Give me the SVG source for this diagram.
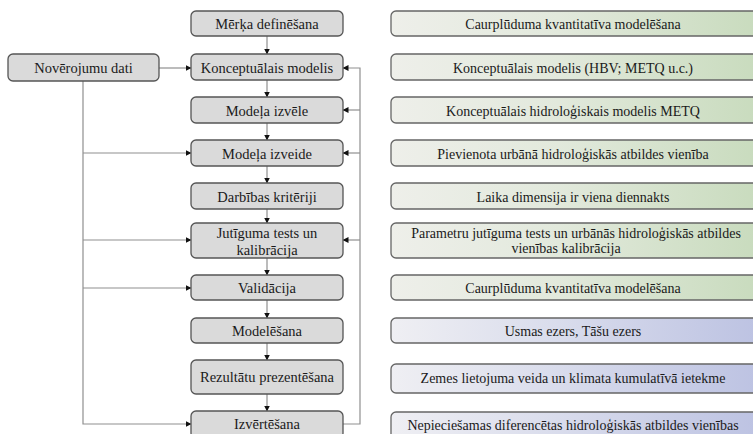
<svg xmlns="http://www.w3.org/2000/svg" width="753" height="434" viewBox="0 0 753 434" font-family="'Liberation Serif', 'DejaVu Serif', serif">
  <style>
    .step rect { fill: #dadada; stroke: #555; stroke-width: 1.3; }
    .note rect { stroke: #666; stroke-width: 1.3; }
    .note.g rect { fill: url(#gGreen); }
    .note.b rect { fill: url(#gBlue); }
    text { font-family: 'Liberation Serif', 'DejaVu Serif', serif; font-size: 14.5px; fill: #1a1a1a; text-anchor: middle; }
    .note text { font-size: 14px; }
    .wire { fill: none; stroke: #8f8f8f; stroke-width: 1.2; marker-end: url(#tip); }
  </style>
  <defs>
    <linearGradient id="gGreen" x1="0" y1="0" x2="1" y2="0">
      <stop offset="0" stop-color="#eeefea"/>
      <stop offset="0.45" stop-color="#e2e9dc"/>
      <stop offset="1" stop-color="#c8dbbd"/>
    </linearGradient>
    <linearGradient id="gBlue" x1="0" y1="0" x2="1" y2="0">
      <stop offset="0" stop-color="#efeff3"/>
      <stop offset="0.45" stop-color="#d9dcec"/>
      <stop offset="1" stop-color="#bcc2e2"/>
    </linearGradient>
    <marker id="tip" markerUnits="userSpaceOnUse" markerWidth="6" markerHeight="6" refX="5.5" refY="3" orient="auto">
      <path d="M0,0 L6,3 L0,6 z" fill="#111"/>
    </marker>
  </defs>

  <rect width="753" height="434" fill="#ffffff"/>

  <!-- connectors -->
  <g id="connectors">
    <!-- main chain -->
    <path class="wire" d="M267,36 V54"/>
    <path class="wire" d="M267,80 V97"/>
    <path class="wire" d="M267,123 V140"/>
    <path class="wire" d="M267,166 V183"/>
    <path class="wire" d="M267,209 V223"/>
    <path class="wire" d="M267,258 V275"/>
    <path class="wire" d="M267,300 V318"/>
    <path class="wire" d="M267,343 V360"/>
    <path class="wire" d="M267,394 V411"/>
    <!-- observation data feeds -->
    <path class="wire" d="M159,68 H191"/>
    <path class="wire" d="M83,81 V424 H191"/>
    <path class="wire" d="M83,153 H191"/>
    <path class="wire" d="M83,240 H191"/>
    <path class="wire" d="M83,288 H191"/>
    <!-- evaluation feedback loop -->
    <path class="wire" d="M343,424 H360 V68 H343"/>
    <path class="wire" d="M360,110 H343"/>
    <path class="wire" d="M360,153 H343"/>
    <path class="wire" d="M360,240 H343"/>
  </g>

  <!-- observation data -->
  <g id="n-dati" class="step">
    <rect x="8" y="54" width="151" height="27" rx="5"/>
    <text x="83.5" y="72.5">Novērojumu dati</text>
  </g>

  <!-- process steps -->
  <g id="n-merka" class="step">
    <rect x="191" y="11" width="152" height="25" rx="5"/>
    <text x="267" y="28.5">Mērķa definēšana</text>
  </g>
  <g id="n-konc" class="step">
    <rect x="191" y="54" width="152" height="26" rx="5"/>
    <text x="267" y="72.5">Konceptuālais modelis</text>
  </g>
  <g id="n-izvele" class="step">
    <rect x="191" y="97" width="152" height="26" rx="5"/>
    <text x="267" y="115.5">Modeļa izvēle</text>
  </g>
  <g id="n-izveide" class="step">
    <rect x="191" y="140" width="152" height="26" rx="5"/>
    <text x="267" y="158.5">Modeļa izveide</text>
  </g>
  <g id="n-krit" class="step">
    <rect x="191" y="183" width="152" height="26" rx="5"/>
    <text x="267" y="201.5">Darbības kritēriji</text>
  </g>
  <g id="n-jut" class="step">
    <rect x="191" y="223" width="152" height="35" rx="5"/>
    <text x="267" y="237.5">Jutīguma tests un</text>
    <text x="267" y="254.5">kalibrācija</text>
  </g>
  <g id="n-valid" class="step">
    <rect x="191" y="275" width="152" height="25" rx="5"/>
    <text x="267" y="292.5">Validācija</text>
  </g>
  <g id="n-model" class="step">
    <rect x="191" y="318" width="152" height="25" rx="5"/>
    <text x="267" y="335.5">Modelēšana</text>
  </g>
  <g id="n-rez" class="step">
    <rect x="191" y="360" width="152" height="34" rx="5"/>
    <text x="267" y="382">Rezultātu prezentēšana</text>
  </g>
  <g id="n-izv" class="step">
    <rect x="191" y="411" width="152" height="27" rx="5"/>
    <text x="267" y="429">Izvērtēšana</text>
  </g>

  <!-- descriptions -->
  <g id="d1" class="note g">
    <rect x="391" y="11" width="372" height="25" rx="5"/>
    <text x="573" y="28.5">Caurplūduma kvantitatīva modelēšana</text>
  </g>
  <g id="d2" class="note g">
    <rect x="391" y="54" width="372" height="26" rx="5"/>
    <text x="573" y="72.5">Konceptuālais modelis (HBV; METQ u.c.)</text>
  </g>
  <g id="d3" class="note g">
    <rect x="391" y="97" width="372" height="26" rx="5"/>
    <text x="573" y="115.5">Konceptuālais hidroloģiskais modelis METQ</text>
  </g>
  <g id="d4" class="note g">
    <rect x="391" y="140" width="372" height="26" rx="5"/>
    <text x="573" y="158.5">Pievienota urbānā hidroloģiskās atbildes vienība</text>
  </g>
  <g id="d5" class="note g">
    <rect x="391" y="183" width="372" height="26" rx="5"/>
    <text x="573" y="201.5">Laika dimensija ir viena diennakts</text>
  </g>
  <g id="d6" class="note g">
    <rect x="391" y="223" width="372" height="35" rx="5"/>
    <text x="576" y="237.5">Parametru jutīguma tests un urbānās hidroloģiskās atbildes</text>
    <text x="566" y="252.5">vienības kalibrācija</text>
  </g>
  <g id="d7" class="note g">
    <rect x="391" y="275" width="372" height="25" rx="5"/>
    <text x="573" y="292.5">Caurplūduma kvantitatīva modelēšana</text>
  </g>
  <g id="d8" class="note b">
    <rect x="391" y="318" width="372" height="25" rx="5"/>
    <text x="573" y="335.5">Usmas ezers, Tāšu ezers</text>
  </g>
  <g id="d9" class="note b">
    <rect x="391" y="364" width="372" height="29" rx="5"/>
    <text x="573" y="383">Zemes lietojuma veida un klimata kumulatīvā ietekme</text>
  </g>
  <g id="d10" class="note b">
    <rect x="391" y="412" width="372" height="27" rx="5"/>
    <text x="573" y="429.5">Nepieciešamas diferencētas hidroloģiskās atbildes vienības</text>
  </g>
</svg>
